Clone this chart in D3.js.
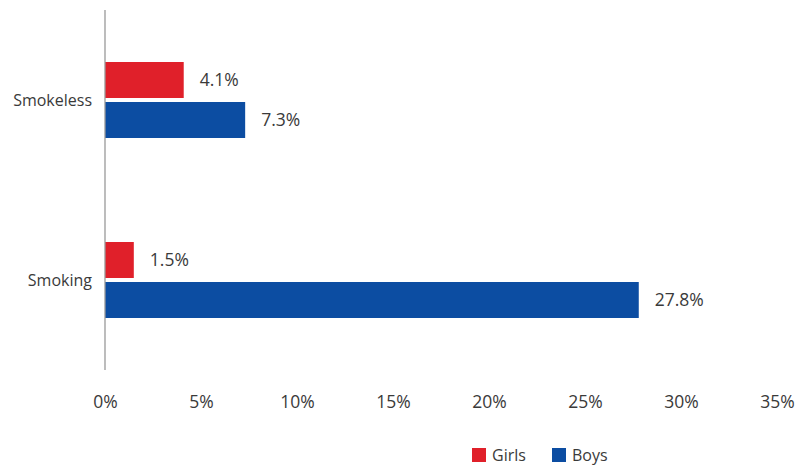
<!DOCTYPE html>
<html><head><meta charset="utf-8">
<script src="https://cdn.jsdelivr.net/npm/d3@7"></script>
<style>body{margin:0;background:#fff}svg text{font-family:"Open Sans","Noto Sans",sans-serif;fill:#3a3a3a}</style>
</head><body><svg id="c" width="796" height="466"></svg>
<script>
const categories = ["Smokeless", "Smoking"];
const seriesNames = ["Girls", "Boys"];
const girls = [4.1, 1.5];
const boys = [7.3, 27.8];
const tickValues = [0, 5, 10, 15, 20, 25, 30, 35];
const colors = {Girls: "#E0202A", Boys: "#0C4DA2"};

const svg = d3.select("#c");
const x = d3.scaleLinear().domain([0, 35]).range([105, 777]);
const y = d3.scaleBand().domain(categories).range([10, 370]);
const yi = d3.scaleBand().domain(seriesNames).range([-38, 38]).paddingInner(0.1);

const data = [];
categories.forEach((c, i) => {
  data.push({cat: c, s: "Girls", v: girls[i]});
  data.push({cat: c, s: "Boys", v: boys[i]});
});

svg.selectAll("rect.bar").data(data).enter().append("rect")
  .attr("class", "bar")
  .attr("x", x(0))
  .attr("y", d => y(d.cat) + y.bandwidth() / 2 + yi(d.s))
  .attr("width", d => x(d.v) - x(0))
  .attr("height", yi.bandwidth())
  .attr("fill", d => colors[d.s]);

svg.selectAll("text.val").data(data).enter().append("text")
  .attr("class", "val")
  .attr("x", d => x(d.v) + 16)
  .attr("y", d => y(d.cat) + y.bandwidth() / 2 + yi(d.s) + yi.bandwidth() / 2)
  .attr("dy", "0.35em")
  .attr("font-size", 17.5)
  .text(d => d.v.toFixed(1) + "%");

// y axis line
svg.append("line").attr("x1", x(0)).attr("x2", x(0)).attr("y1", 10).attr("y2", 370)
  .attr("stroke", "#999").attr("stroke-width", 1.3);

// category labels
svg.selectAll("text.cat").data(categories).enter().append("text")
  .attr("class", "cat")
  .attr("x", 92).attr("y", d => y(d) + y.bandwidth() / 2)
  .attr("dy", "0.35em").attr("text-anchor", "end").attr("font-size", 16)
  .text(d => d);

// x axis tick labels
const xAxis = d3.axisBottom(x).tickValues(tickValues).tickFormat(d => d + "%").tickSize(0).tickPadding(0);
const gx = svg.append("g").attr("transform", "translate(0,396)").call(xAxis);
gx.select(".domain").remove();
gx.selectAll("text").attr("font-size", 17.5).attr("fill", "#3a3a3a").attr("dy", "0.71em")
  .style("font-family", '"Open Sans","Noto Sans",sans-serif');

// legend
const legend = [{n: "Girls", x: 472}, {n: "Boys", x: 552}];
const lg = svg.selectAll("g.lg").data(legend).enter().append("g").attr("class", "lg")
  .attr("transform", d => `translate(${d.x},448)`);
lg.append("rect").attr("width", 14).attr("height", 14).attr("fill", d => colors[d.n]);
lg.append("text").attr("x", 20).attr("y", 7).attr("dy", "0.35em").attr("font-size", 16).text(d => d.n);
</script></body></html>
